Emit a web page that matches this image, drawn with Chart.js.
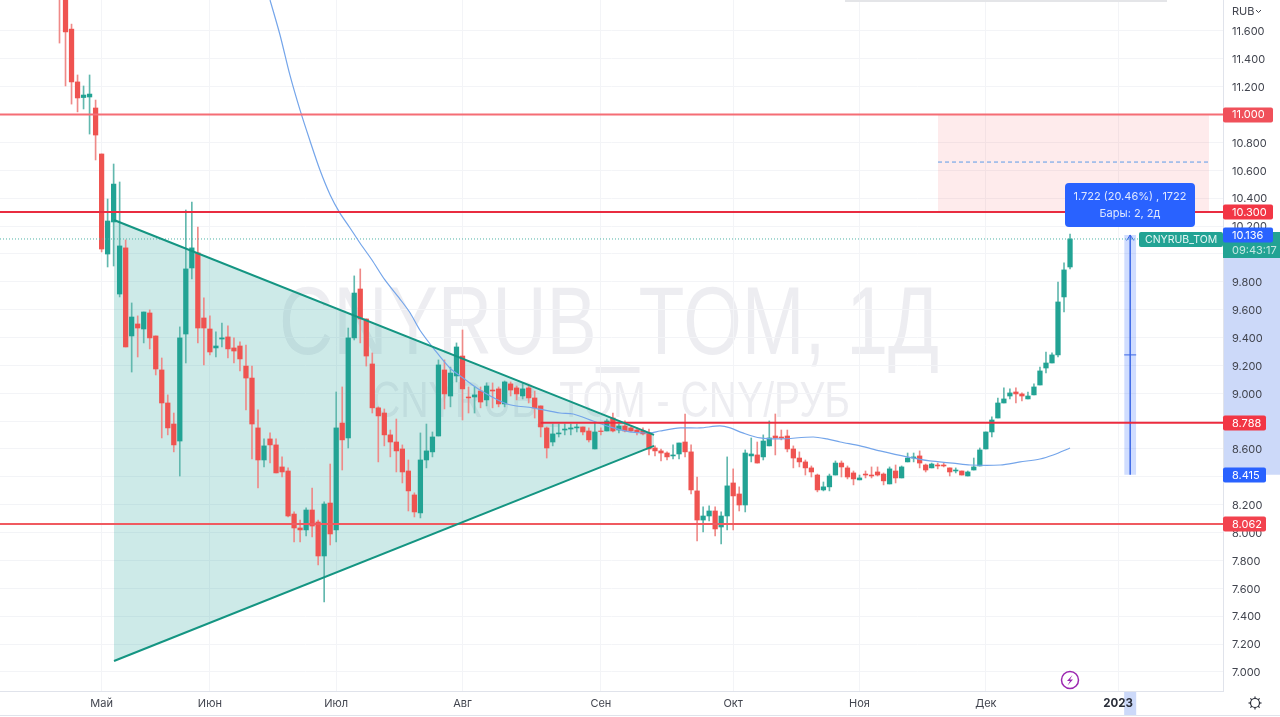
<!DOCTYPE html>
<html>
<head>
<meta charset="utf-8">
<title>CNYRUB_TOM</title>
<script src="https://cdn.jsdelivr.net/npm/chart.js"></script>
<style>
  html, body { margin: 0; padding: 0; background: #fff; }
  canvas { display: block; }
</style>
</head>
<body>
<canvas id="chartLine" width="1280" height="717"></canvas>
<script>
// daily candles (bar number = position in the array)
const opens = [11.98,11.88,11.613,11.234,11.122,11.126,11.047,10.717,9.999,10.229,9.712,10.043,9.411,9.497,9.461,9.576,9.411,9.167,8.930,8.779,8.657,9.425,9.899,10.007,9.540,9.461,9.325,9.389,9.404,9.325,9.339,9.195,9.109,8.751,8.521,8.672,8.629,8.471,8.442,8.133,8.033,8.019,8.162,8.076,7.832,8.212,8.019,8.786,8.679,9.397,9.748,9.533,9.210,8.895,8.858,8.701,8.650,8.600,8.442,8.270,8.141,8.521,8.579,8.693,9.167,8.980,9.124,9.267,8.973,8.973,9.016,8.952,9.023,9.031,8.923,9.067,9.038,8.980,9.038,8.966,8.909,8.751,8.650,8.708,8.736,8.743,8.751,8.758,8.729,8.600,8.729,8.729,8.822,8.736,8.765,8.751,8.736,8.729,8.715,8.607,8.586,8.571,8.550,8.564,8.650,8.579,8.299,8.090,8.119,8.155,8.040,8.119,8.356,8.277,8.198,8.550,8.557,8.543,8.622,8.693,8.686,8.693,8.600,8.535,8.507,8.464,8.413,8.306,8.328,8.413,8.499,8.464,8.428,8.378,8.420,8.413,8.435,8.420,8.349,8.442,8.392,8.507,8.535,8.550,8.485,8.464,8.485,8.485,8.464,8.442,8.442,8.406,8.449,8.478,8.600,8.722,8.822,8.930,8.980,9.009,8.995,8.959,8.988,9.059,9.181,9.217,9.275,9.691,9.906];
const closes = [11.88,11.593,11.234,11.119,11.140,11.147,10.853,10.035,10.236,10.501,10.057,9.332,9.547,9.468,9.583,9.397,9.174,8.930,8.751,8.629,9.397,9.892,10.043,9.468,9.468,9.296,9.339,9.397,9.318,9.303,9.246,9.109,8.779,8.521,8.622,8.629,8.428,8.435,8.119,8.033,8.019,8.162,8.047,7.832,8.205,7.990,8.751,8.665,9.397,9.719,9.533,9.267,8.895,8.837,8.701,8.650,8.586,8.435,8.299,8.148,8.521,8.586,8.686,9.203,8.995,9.145,9.332,9.031,8.966,8.988,8.937,9.052,9.016,8.923,9.081,9.023,8.995,9.031,8.966,8.895,8.758,8.607,8.708,8.715,8.743,8.751,8.758,8.722,8.665,8.722,8.725,8.801,8.729,8.765,8.729,8.729,8.722,8.708,8.600,8.586,8.571,8.543,8.557,8.643,8.579,8.306,8.090,8.119,8.155,8.026,8.119,8.335,8.263,8.198,8.571,8.564,8.499,8.657,8.679,8.679,8.679,8.600,8.535,8.507,8.464,8.435,8.306,8.328,8.406,8.499,8.471,8.399,8.385,8.392,8.413,8.406,8.413,8.371,8.457,8.392,8.471,8.535,8.543,8.499,8.449,8.492,8.478,8.478,8.435,8.449,8.413,8.435,8.471,8.593,8.722,8.808,8.930,8.959,9.002,8.995,8.980,8.980,9.045,9.160,9.217,9.275,9.655,9.885,10.107];
const highs = [12.0,11.9,11.649,11.284,11.205,11.284,11.104,10.717,10.394,10.645,10.516,10.100,9.648,9.555,9.583,9.598,9.411,9.253,8.988,8.858,9.476,10.315,10.372,10.193,9.684,9.555,9.440,9.504,9.483,9.397,9.368,9.346,9.195,8.880,8.672,8.715,8.672,8.543,8.464,8.148,8.090,8.177,8.320,8.090,8.220,8.492,9.009,9.045,9.468,9.842,9.892,9.533,9.289,8.902,8.887,8.736,8.815,8.629,8.521,8.285,8.715,8.779,8.722,9.239,9.239,9.188,9.361,9.454,9.045,9.045,9.045,9.074,9.074,9.045,9.088,9.081,9.052,9.074,9.059,9.016,8.909,8.758,8.779,8.779,8.779,8.779,8.779,8.758,8.751,8.786,8.751,8.815,8.858,8.779,8.801,8.758,8.751,8.751,8.743,8.622,8.600,8.579,8.629,8.643,8.851,8.629,8.399,8.184,8.191,8.184,8.148,8.543,8.457,8.328,8.593,8.679,8.650,8.701,8.801,8.851,8.736,8.736,8.622,8.579,8.521,8.478,8.420,8.363,8.420,8.514,8.514,8.478,8.442,8.413,8.442,8.471,8.471,8.428,8.471,8.485,8.478,8.571,8.571,8.586,8.492,8.499,8.499,8.499,8.464,8.464,8.442,8.442,8.535,8.607,8.722,8.830,8.966,9.038,9.031,9.038,9.002,9.009,9.067,9.188,9.296,9.289,9.798,9.935,10.143];
const lows = [11.513,11.205,11.075,11.019,11.040,10.860,10.674,10.014,9.906,9.913,9.691,9.332,9.152,9.260,9.361,9.318,9.131,8.679,8.701,8.579,8.406,9.217,9.820,9.361,9.203,9.275,9.260,9.332,9.253,9.217,9.160,8.880,8.528,8.320,8.471,8.499,8.428,8.399,8.112,7.933,7.933,7.976,7.969,7.767,7.502,7.911,7.933,8.449,8.607,9.382,9.361,9.195,8.858,8.507,8.622,8.543,8.435,8.356,8.155,8.112,8.105,8.464,8.543,8.693,8.887,8.902,9.081,8.808,8.858,8.858,8.895,8.909,8.895,8.902,8.902,8.980,8.952,8.959,8.930,8.822,8.686,8.535,8.622,8.686,8.701,8.701,8.722,8.701,8.650,8.600,8.701,8.729,8.722,8.715,8.722,8.722,8.701,8.701,8.557,8.550,8.514,8.521,8.528,8.528,8.543,8.277,7.940,8.004,8.083,7.976,7.918,8.019,8.019,8.155,8.148,8.507,8.499,8.521,8.622,8.557,8.665,8.579,8.464,8.471,8.413,8.399,8.292,8.299,8.299,8.413,8.399,8.385,8.342,8.378,8.392,8.392,8.406,8.342,8.349,8.356,8.392,8.507,8.507,8.464,8.435,8.464,8.457,8.471,8.406,8.428,8.413,8.406,8.449,8.478,8.600,8.686,8.822,8.930,8.959,8.930,8.945,8.959,8.988,9.059,9.145,9.217,9.260,9.583,9.892];

// moving average
const maBars = [35,36.66,38.3,39.98,41.6,43.3,45,46.6,48.3,49.95,51.95,54.1,56.6,58.3,59.9,62.4,64.9,67.1,69.9,74.4,78.7,83.2,85.4,88.7,91.5,94.8,98.2,99.8,103.2,106.5,109.8,111.5,113.6,116.5,119.8,125.3,127.6,129.8,133.1,136.4,140.9,144.7,148.5,151.4,156.4,159.7,163,165.2,168];
const maValues = [11.822,11.571,11.284,11.033,10.817,10.602,10.423,10.294,10.186,10.078,9.956,9.813,9.676,9.576,9.454,9.310,9.181,9.109,9.023,8.923,8.895,8.858,8.851,8.801,8.758,8.722,8.715,8.729,8.751,8.751,8.765,8.751,8.715,8.679,8.672,8.686,8.672,8.650,8.622,8.586,8.543,8.514,8.499,8.485,8.485,8.507,8.528,8.557,8.607];

// axes
const monthBars = [7,25,46,67,90,112,133,154,176];
const monthLabels = ["Май","Июн","Июл","Авг","Сен","Окт","Ноя","Дек","2023"];
const priceTicks = [7,7.2,7.4,7.6,7.8,8,8.2,8.4,8.6,8.8,9,9.2,9.4,9.6,9.8,10,10.2,10.4,10.6,10.8,11,11.2,11.4,11.6];
const xMin = -9.892, xMax = 193.43, yMin = 6.863, yMax = 11.822;

// drawings on the chart
const triangleBars = [9.06,98.84];
const triangleUpper = [10.243,8.701];
const triangleLower = [7.078,8.622];
const boxBars = [146.05,191.1];
const boxValues = [11,10.3];
const boxMiddle = 10.659;
const lastPrice = 10.107;
const levelFull = [11,10.3,8.062];
const levelPartial = 8.788;
const levelPartialStart = 80;
const measureBars = [177,178,179];
const measureValues = [10.136,9.275,8.415];

const UP = "#22a394", DOWN = "#ef5350";
const UP_WICK = "#62b8ae", DOWN_WICK = "#ef8a88";
const upOrDown = (a, b) => closes.map((c, i) => c >= opens[i] ? a : b);

function flatLine(x1, x2, y, color, width, order, extra) {
  return Object.assign({
    type: "line",
    data: [{x: x1, y: y}, {x: x2, y: y}],
    borderColor: color,
    borderWidth: width,
    pointRadius: 0,
    fill: false,
    order: order
  }, extra || {});
}

function pathLine(xs, ys, color, width, order, extra) {
  return Object.assign({
    type: "line",
    data: xs.map((x, i) => ({x: x, y: ys[i]})),
    borderColor: color,
    borderWidth: width,
    pointRadius: 0,
    fill: false,
    order: order
  }, extra || {});
}

const datasets = [
  // filled areas first, the filler plugin draws them under everything
  pathLine(triangleBars, triangleUpper, "#149582", 2, 1, {fill: "+1", backgroundColor: "rgba(38,166,154,0.23)"}),
  pathLine(triangleBars, triangleLower, "#149582", 2, 1),
  flatLine(boxBars[0], boxBars[1], boxValues[0], "rgba(0,0,0,0)", 0, 9, {fill: "+1", backgroundColor: "rgba(242,54,69,0.1)"}),
  flatLine(boxBars[0], boxBars[1], boxValues[1], "rgba(0,0,0,0)", 0, 9),
  flatLine(measureBars[0], measureBars[2], measureValues[0], "rgba(0,0,0,0)", 0, 9, {fill: "+1", backgroundColor: "rgba(41,98,255,0.22)"}),
  flatLine(measureBars[0], measureBars[2], measureValues[2], "rgba(0,0,0,0)", 0, 9),

  // candles
  {
    type: "bar",
    data: closes.map((c, i) => ({x: i, y: [lows[i], highs[i]]})),
    backgroundColor: upOrDown(UP_WICK, DOWN_WICK),
    barThickness: 1,
    order: 6
  },
  {
    type: "bar",
    data: closes.map((c, i) => ({x: i, y: [opens[i], c]})),
    backgroundColor: upOrDown(UP, DOWN),
    barThickness: 4.6,
    order: 5
  },

  pathLine(maBars, maValues, "#74a5ea", 1.2, 4, {tension: 0.3}),
  flatLine(xMin, xMax, lastPrice, "#4fb3a6", 1, 4, {borderDash: [1, 2]}),
  flatLine(boxBars[0], boxBars[1], boxMiddle, "#5b9be8", 1, 3, {borderDash: [4, 3]}),

  flatLine(xMin, xMax, levelFull[0], "#f56d75", 2, 2),
  flatLine(xMin, xMax, levelFull[1], "#e92c40", 2, 2),
  flatLine(xMin, xMax, levelFull[2], "#f05a60", 2, 2),
  flatLine(levelPartialStart, xMax, levelPartial, "#ec2b3e", 2, 2),

  // measure tool: shaft, arrow head, middle tick
  pathLine([measureBars[1], measureBars[1]], [measureValues[0], measureValues[2]], "#3a66e6", 1.5, 2),
  pathLine([measureBars[1] - 0.6, measureBars[1], measureBars[1] + 0.6], [measureValues[0] - 0.04, measureValues[0], measureValues[0] - 0.04], "#3a66e6", 1, 2),
  flatLine(measureBars[0], measureBars[2], measureValues[1], "#3a66e6", 1, 2)
];

function fitText(c, text, x, y, width) {
  c.save();
  const w = c.measureText(text).width;
  c.translate(x, y);
  c.scale(width / w, 1);
  c.fillText(text, 0, 0);
  c.restore();
}

const overlay = {
  id: "overlay",
  beforeDraw(chart) {
    const c = chart.ctx;
    const xs = chart.scales.x, ys = chart.scales.y;
    c.save();
    // watermark
    c.fillStyle = "rgba(42,46,90,0.085)";
    c.textBaseline = "alphabetic";
    c.textAlign = "left";
    c.font = '96px "Liberation Sans"';
    fitText(c, "CNYRUB_TOM, 1Д", 279, 354, 660);
    c.font = '50px "Liberation Sans"';
    fitText(c, "CNYRUB_TOM - CNY/РУБ", 372, 417, 478);
    // time axis highlight of the measure tool
    c.fillStyle = "#ccd9f9";
    const m0 = xs.getPixelForValue(measureBars[0]), m2 = xs.getPixelForValue(measureBars[2]);
    c.fillRect(m0, 691, m2 - m0, 24);
    // price axis highlight
    const top = ys.getPixelForValue(measureValues[0]), bottom = ys.getPixelForValue(measureValues[2]);
    c.fillRect(1223, top, 57, bottom - top);
    c.restore();
  },
  afterDraw(chart) {
    const c = chart.ctx;
    const ys = chart.scales.y;
    c.save();
    // panel edge at the top
    c.fillStyle = "#e4e5e8";
    c.fillRect(845, 0, 322, 2);
    // bottom border
    c.fillStyle = "#e0e3eb";
    c.fillRect(0, 715, 1280, 1);

    c.textBaseline = "middle";
    c.font = "11px Inter";
    c.textAlign = "left";
    c.fillStyle = "#42454f";
    c.fillText("RUB", 1232, 12);
    c.strokeStyle = "#42454f";
    c.lineWidth = 1;
    c.beginPath();
    c.moveTo(1256, 10); c.lineTo(1258.5, 12.5); c.lineTo(1261, 10);
    c.stroke();

    function priceBox(value, text, color, w) {
      const y = ys.getPixelForValue(value);
      c.fillStyle = color;
      c.beginPath();
      c.roundRect(1223, Math.round(y) - 7.5, w, 15, 2);
      c.fill();
      c.fillStyle = "#fff";
      c.fillText(text, 1232, y + 0.5);
    }
    // series label under the last price
    c.fillStyle = UP;
    c.fillRect(1223, 232, 57, 26);
    c.fillStyle = "#c5e8e3";
    c.fillText("09:43:17", 1232, 251);
    c.fillStyle = UP;
    c.beginPath();
    c.roundRect(1139, 232, 84, 15, 2);
    c.fill();
    c.fillStyle = "#e6f6f4";
    c.font = "10.5px Inter";
    c.fillText("CNYRUB_TOM", 1145, 239.5);
    c.font = "11px Inter";

    priceBox(levelFull[0], "11.000", "#f0505a", 50);
    priceBox(levelFull[1], "10.300", "#f23645", 50);
    priceBox(measureValues[0], "10.136", "#2962ff", 50);
    priceBox(levelPartial, "8.788", "#f23645", 43);
    priceBox(measureValues[2], "8.415", "#2962ff", 43);
    priceBox(levelFull[2], "8.062", "#f2424e", 43);

    // measure tool label
    c.fillStyle = "#2962ff";
    c.beginPath();
    c.roundRect(1065, 183, 130, 44, 4);
    c.fill();
    c.fillStyle = "#dfe8ff";
    c.textAlign = "center";
    c.fillText("1.722 (20.46%) , 1722", 1130, 197);
    c.fillText("Бары: 2, 2д", 1130, 214);

    // lightning badge
    c.strokeStyle = "#9c27b0";
    c.lineWidth = 1.5;
    c.beginPath();
    c.arc(1070, 680, 8.5, 0, Math.PI * 2);
    c.stroke();
    c.fillStyle = "#9c27b0";
    c.beginPath();
    c.moveTo(1072.5, 675); c.lineTo(1067, 681); c.lineTo(1070, 681);
    c.lineTo(1067.5, 685.5); c.lineTo(1073, 679.5); c.lineTo(1070, 679.5);
    c.closePath();
    c.fill();

    // settings gear
    c.strokeStyle = "#2a2e39";
    c.lineWidth = 1.2;
    c.beginPath();
    c.arc(1255, 703, 4.5, 0, Math.PI * 2);
    c.stroke();
    for (let k = 0; k < 8; k++) {
      const a = k * Math.PI / 4;
      c.beginPath();
      c.moveTo(1255 + Math.cos(a) * 4.5, 703 + Math.sin(a) * 4.5);
      c.lineTo(1255 + Math.cos(a) * 6.5, 703 + Math.sin(a) * 6.5);
      c.stroke();
    }
    c.restore();
  }
};

function noPadding(scale) {
  scale.paddingTop = 0;
  scale.paddingBottom = 0;
  scale.paddingLeft = 0;
  scale.paddingRight = 0;
}

new Chart(document.getElementById("chartLine"), {
  type: "bar",
  data: {datasets: datasets},
  plugins: [overlay],
  options: {
    responsive: false,
    animation: false,
    events: [],
    layout: {padding: 0},
    datasets: {bar: {grouped: false}},
    plugins: {
      legend: {display: false},
      tooltip: {enabled: false},
      filler: {drawTime: "beforeDatasetsDraw"}
    },
    scales: {
      x: {
        type: "linear",
        offset: false,
        min: xMin,
        max: xMax,
        afterBuildTicks(scale) { scale.ticks = monthBars.map(v => ({value: v})); },
        afterFit(scale) { scale.height = 26; noPadding(scale); },
        grid: {color: "#f3f4f7", drawTicks: false, offset: false},
        border: {color: "#e0e3eb"},
        ticks: {
          autoSkip: false,
          maxRotation: 0,
          padding: 6,
          font: ctx => ctx.tick && ctx.tick.value === 176 ? {family: "Inter", size: 11.5, weight: "bold"} : {family: "Inter", size: 11},
          color: ctx => ctx.tick && ctx.tick.value === 176 ? "#2a2e39" : "#42454f",
          callback: v => monthLabels[monthBars.indexOf(v)]
        }
      },
      y: {
        type: "linear",
        position: "right",
        min: yMin,
        max: yMax,
        afterBuildTicks(scale) { scale.ticks = priceTicks.map(v => ({value: v})); },
        afterFit(scale) { scale.width = 57; noPadding(scale); },
        grid: {color: "#f3f4f7", drawTicks: false},
        border: {color: "#e0e3eb"},
        ticks: {
          autoSkip: false,
          padding: 9,
          labelOffset: 1,
          font: {family: "Inter", size: 11},
          color: "#42454f",
          callback: v => v.toFixed(3)
        }
      }
    }
  }
});
</script>
</body>
</html>
